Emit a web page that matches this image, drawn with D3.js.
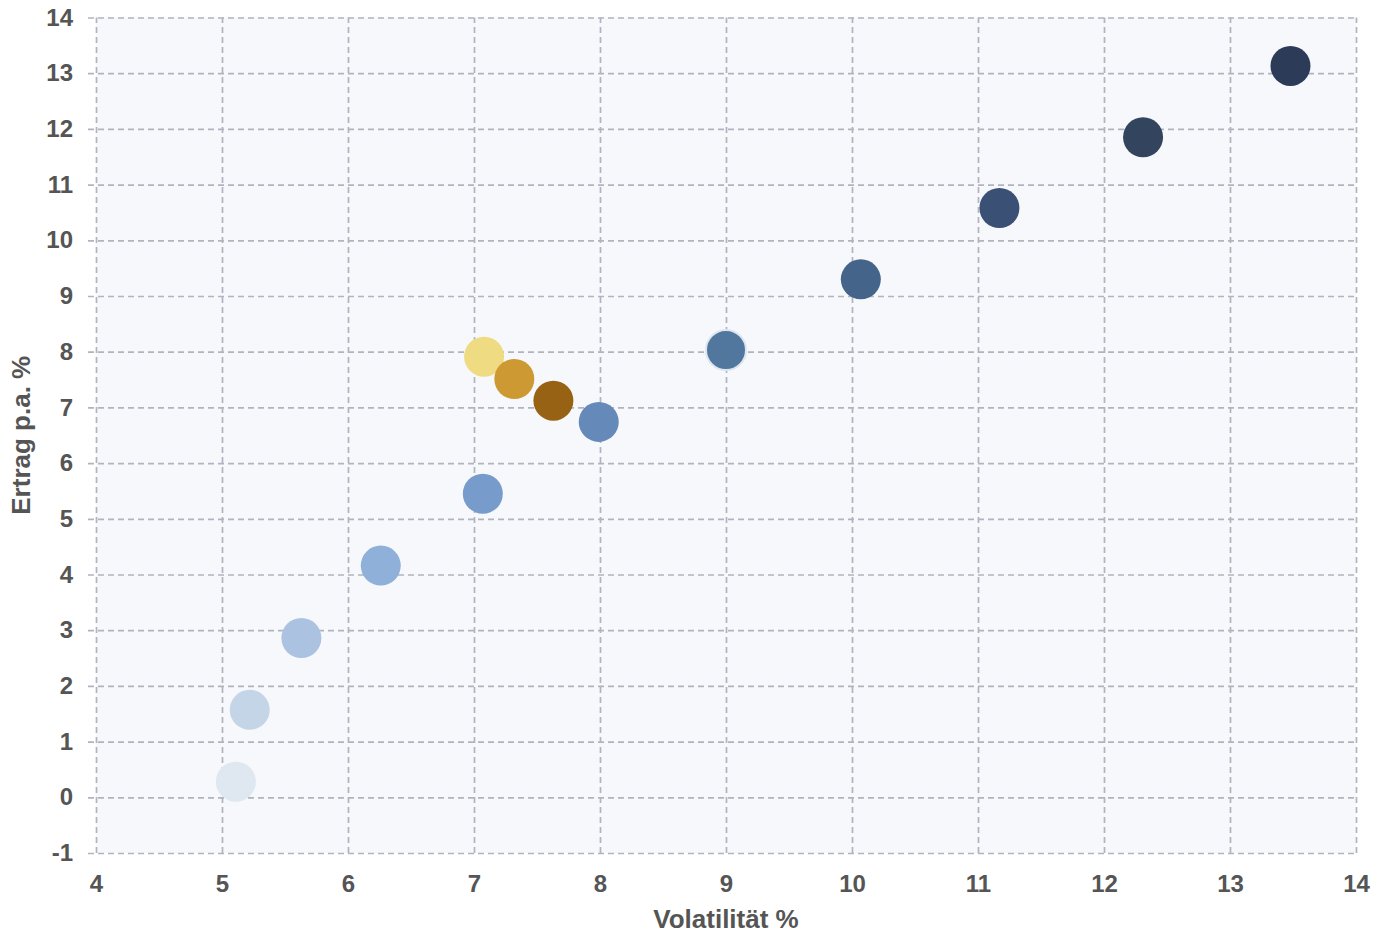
<!DOCTYPE html>
<html>
<head>
<meta charset="utf-8">
<script src="https://cdn.jsdelivr.net/npm/d3@7"></script>
<style>
  body { margin: 0; background: #fff; }
  text { font-family: "Liberation Sans", Arial, sans-serif; }
</style>
</head>
<body>
<svg id="chart" width="1388" height="935"></svg>
<script>
// Volatilität (x) / Ertrag (y) je Portfolio
const volatility = [5.11, 5.22, 5.63, 6.26, 7.07, 7.99, 9.0, 10.07, 11.17, 12.31, 13.48, 7.08, 7.32, 7.63]
const returns = [0.28, 1.57, 2.86, 4.16, 5.45, 6.74, 8.03, 9.30, 10.58, 11.85, 13.13, 7.91, 7.51, 7.12]
const dotColors = ['#dfe7f0', '#c4d5e8', '#abc2e1', '#8fb0d8', '#779ccb', '#6589b8', '#52779f',
  '#456489', '#3a5074', '#33445f', '#2c3b58', '#efdb82', '#cd9933', '#976214']
const xTicks = [4, 5, 6, 7, 8, 9, 10, 11, 12, 13, 14]
const yTicks = [-1, 0, 1, 2, 3, 4, 5, 6, 7, 8, 9, 10, 11, 12, 13, 14]

const margin = {top: 17.5, right: 32, bottom: 82, left: 96}
const W = 1388, H = 935
const w = W - margin.left - margin.right
const h = H - margin.top - margin.bottom

const svg = d3.select('#chart')
const g = svg.append('g').attr('transform', `translate(${margin.left},${margin.top})`)

const x = d3.scaleLinear().domain([4, 14]).range([0, w])
const y = d3.scaleLinear().domain([-1, 14]).range([h, 0])

// plot background
g.append('rect').attr('width', w).attr('height', h).attr('fill', '#f7f8fc')

// y grid + labels
const yAxis = g.append('g')
  .attr('transform', 'translate(-8,0)')
  .call(d3.axisLeft(y).tickValues(yTicks).tickSize(-(w + 8)).tickPadding(15).tickFormat(d => String(d)))
yAxis.select('.domain').remove()

// x grid + labels
const xAxis = g.append('g')
  .attr('transform', `translate(0,${h})`)
  .call(d3.axisBottom(x).tickValues(xTicks).tickSize(-h).tickPadding(22).tickFormat(d => String(d)))
xAxis.select('.domain').remove()

g.selectAll('.tick line')
  .attr('stroke', '#b0b4be')
  .attr('stroke-width', 1.7)
  .attr('stroke-dasharray', '6,4')
g.selectAll('.tick text')
  .attr('fill', '#555')
  .style('font-size', '24px')
  .style('font-weight', 'bold')

// axis titles
svg.append('text')
  .attr('x', margin.left + w / 2)
  .attr('y', 928)
  .attr('text-anchor', 'middle')
  .attr('fill', '#555')
  .style('font-size', '26px')
  .style('font-weight', 'bold')
  .text('Volatilität %')

svg.append('text')
  .attr('transform', `translate(30,${margin.top + y(6.5)}) rotate(-90)`)
  .attr('text-anchor', 'middle')
  .attr('fill', '#555')
  .style('font-size', '26px')
  .style('font-weight', 'bold')
  .text('Ertrag p.a. %')

// dots
g.selectAll('circle.dot')
  .data(d3.range(volatility.length))
  .join('circle')
  .attr('class', 'dot')
  .attr('cx', i => x(volatility[i]))
  .attr('cy', i => y(returns[i]))
  .attr('r', 20)
  .attr('fill', i => dotColors[i])
  .attr('stroke', i => i === 6 ? '#dde5ef' : 'none')
  .attr('stroke-width', 2)
</script>
</body>
</html>
